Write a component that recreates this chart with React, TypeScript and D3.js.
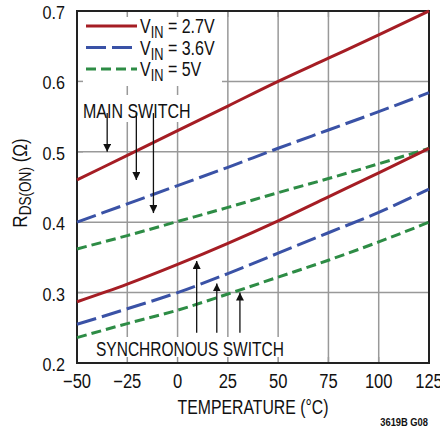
import React from "react";
import * as d3 from "d3";

const temps = [-50, -25, 0, 25, 50, 75, 100, 125];
// main switch
const main27 = [0.46, 0.495, 0.53, 0.565, 0.6, 0.633, 0.666, 0.7];
const main36 = [0.4, 0.426, 0.452, 0.478, 0.505, 0.531, 0.557, 0.584];
const main5 = [0.362, 0.381, 0.401, 0.421, 0.442, 0.462, 0.483, 0.505];
// synchronous switch
const sync27 = [0.287, 0.312, 0.34, 0.37, 0.402, 0.436, 0.47, 0.505];
const sync36 = [0.255, 0.277, 0.3, 0.327, 0.356, 0.385, 0.414, 0.447];
const sync5 = [0.236, 0.256, 0.275, 0.298, 0.322, 0.346, 0.372, 0.4];

const xTicks = [-50, -25, 0, 25, 50, 75, 100, 125];
const yTicks = [0.2, 0.3, 0.4, 0.5, 0.6, 0.7];
const legendLabels = ["2.7V", "3.6V", "5V"];

// arrow annotations: [temperature, tail R, head R]
const mainArrows = [
  [-35, 0.555, 0.5],
  [-20.5, 0.555, 0.46],
  [-12, 0.555, 0.413],
];
const syncArrows = [
  [9.5, 0.243, 0.345],
  [19.5, 0.243, 0.313],
  [31, 0.243, 0.3],
];

const RED = "#a51d24";
const BLUE = "#3a52a6";
const GREEN = "#2d8c45";
const FONT = "'Liberation Sans', Arial, sans-serif";

// condensed text: the reference uses a narrow face, so squeeze horizontally
function T(props: { x: number; y: number; size: number; sx?: number; anchor?: string; bold?: boolean; children: React.ReactNode }) {
  const { x, y, size, sx = 0.8, anchor = "start", bold, children } = props;
  return (
    <text
      transform={`translate(${x},${y}) scale(${sx},1)`}
      fontSize={size}
      textAnchor={anchor}
      fontWeight={bold ? "bold" : "normal"}
      fill="#111"
    >
      {children}
    </text>
  );
}

export default function App() {
  const left = 77, right = 429, top = 11, bottom = 363;
  const x = d3.scaleLinear().domain([-50, 125]).range([left, right]);
  const y = d3.scaleLinear().domain([0.2, 0.7]).range([bottom, top]);
  const line = d3
    .line<number>()
    .x((_, i) => x(temps[i]))
    .y((d) => y(d))
    .curve(d3.curveMonotoneX);

  const series = [
    { v: main27, c: RED, dash: undefined },
    { v: main36, c: BLUE, dash: "20 6" },
    { v: main5, c: GREEN, dash: "10 5" },
    { v: sync27, c: RED, dash: undefined },
    { v: sync36, c: BLUE, dash: "20 6" },
    { v: sync5, c: GREEN, dash: "10 5" },
  ];
  const legend = [
    { c: RED, dash: undefined },
    { c: BLUE, dash: "20 6" },
    { c: GREEN, dash: "10 5" },
  ];

  return (
    <div style={{ position: "absolute", left: 0, top: 0 }}>
      <svg width={440} height={430} style={{ display: "block", fontFamily: FONT }}>
        <defs>
          <marker id="ah" viewBox="0 0 10 10" refX="10" refY="5" markerWidth="8" markerHeight="8" orient="auto" markerUnits="userSpaceOnUse">
            <path d="M0,0 L10,5 L0,10 Z" fill="#111" />
          </marker>
        </defs>
        <rect width={440} height={430} fill="#fff" />
        {/* grid */}
        {xTicks.map((t) => (
          <line key={"gx" + t} x1={x(t)} x2={x(t)} y1={top} y2={bottom} stroke="#999" strokeWidth={1.5} />
        ))}
        {yTicks.map((t) => (
          <line key={"gy" + t} x1={left} x2={right} y1={y(t)} y2={y(t)} stroke="#999" strokeWidth={1.5} />
        ))}
        {/* white label boxes */}
        <rect x={left} y={top} width={145} height={75} fill="#fff" />
        <rect x={80} y={95} width={112} height={27} fill="#fff" />
        <rect x={93} y={337} width={193} height={25} fill="#fff" />
        {/* inner ticks */}
        {xTicks.map((t) => (
          <line key={"tx" + t} x1={x(t)} x2={x(t)} y1={bottom} y2={bottom - 6} stroke="#999" strokeWidth={1.5} />
        ))}
        {xTicks.map((t) => (
          <line key={"tt" + t} x1={x(t)} x2={x(t)} y1={top} y2={top + 6} stroke="#999" strokeWidth={1.5} />
        ))}
        {yTicks.map((t) => (
          <line key={"ty" + t} x1={left} x2={left + 6} y1={y(t)} y2={y(t)} stroke="#999" strokeWidth={1.5} />
        ))}
        <rect x={left} y={top} width={right - left} height={bottom - top} fill="none" stroke="#222" strokeWidth={2} />
        {/* curves */}
        {series.map((s, i) => (
          <path key={i} d={line(s.v) ?? ""} fill="none" stroke={s.c} strokeWidth={3} strokeDasharray={s.dash} />
        ))}
        {/* legend */}
        {legend.map((l, i) => (
          <g key={"lg" + i}>
            <line x1={86} x2={137} y1={26 + i * 21.5} y2={26 + i * 21.5} stroke={l.c} strokeWidth={3} strokeDasharray={l.dash} />
            <T x={140} y={33 + i * 21.5} size={20} sx={0.8}>
              V<tspan fontSize={16} dy={5}>IN</tspan>
              <tspan dy={-5}> = {legendLabels[i]}</tspan>
            </T>
          </g>
        ))}
        {/* annotations */}
        <T x={83} y={118} size={20} sx={0.8}>MAIN SWITCH</T>
        <T x={96} y={356} size={20} sx={0.776}>SYNCHRONOUS SWITCH</T>
        {mainArrows.map((a, i) => (
          <line key={"ma" + i} x1={x(a[0])} x2={x(a[0])} y1={y(a[1])} y2={y(a[2])} stroke="#111" strokeWidth={1.3} markerEnd="url(#ah)" />
        ))}
        {syncArrows.map((a, i) => (
          <line key={"sa" + i} x1={x(a[0])} x2={x(a[0])} y1={y(a[1])} y2={y(a[2])} stroke="#111" strokeWidth={1.3} markerEnd="url(#ah)" />
        ))}
        {/* axis labels */}
        {yTicks.map((t) => (
          <T key={"yl" + t} x={65} y={y(t) + 8} size={19} sx={0.85} anchor="end">
            {t.toFixed(1)}
          </T>
        ))}
        {xTicks.map((t) => (
          <T key={"xl" + t} x={x(t)} y={388} size={19.5} sx={0.85} anchor="middle">
            {t < 0 ? "\u2212" + Math.abs(t) : t}
          </T>
        ))}
        <T x={253} y={414} size={20} sx={0.79} anchor="middle">TEMPERATURE (°C)</T>
        <text transform="translate(27,183) rotate(-90) scale(0.85,1)" fontSize={20} textAnchor="middle" fill="#111">
          R<tspan fontSize={16} dy={4}>DS(ON)</tspan>
          <tspan dy={-4}> (Ω)</tspan>
        </text>
        <T x={428} y={426} size={11} sx={0.85} anchor="end" bold>3619B G08</T>
      </svg>
    </div>
  );
}
